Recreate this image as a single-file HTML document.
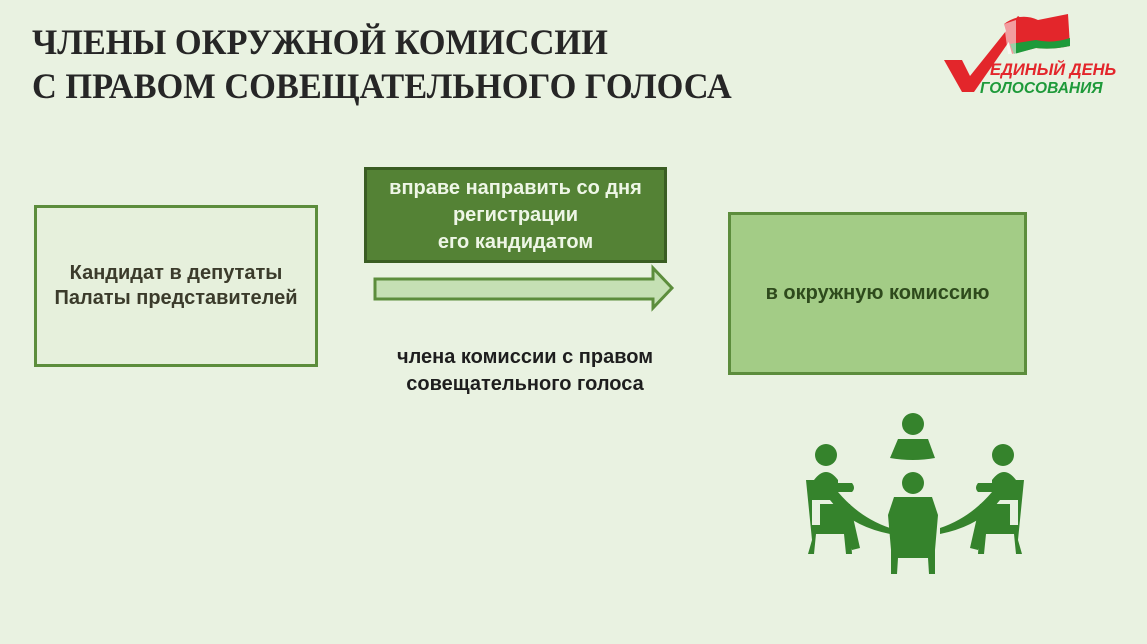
<!DOCTYPE html>
<html><head><meta charset="utf-8"><style>
body{margin:0;width:1147px;height:644px;background:#e9f2e1;position:relative;overflow:hidden;font-family:"Liberation Sans","DejaVu Sans",sans-serif}
.t{position:absolute;left:32px;top:20px;font-family:"Liberation Serif",serif;font-weight:bold;font-size:36px;line-height:44px;color:#262626;transform:scaleX(0.955);transform-origin:0 0;white-space:nowrap}
.b{position:absolute;box-sizing:border-box;display:flex;align-items:center;justify-content:center;text-align:center;font-weight:bold}
</style></head><body>
<div class="t">ЧЛЕНЫ ОКРУЖНОЙ КОМИССИИ<br>С ПРАВОМ СОВЕЩАТЕЛЬНОГО ГОЛОСА</div>
<svg style="position:absolute;left:940px;top:8px" width="195" height="92" viewBox="0 0 195 92">
<path d="M4 52 L22 52 L30 68 L78 8 L84 12 L34 84 L22 84 Z" fill="#e3262b"/>
<path d="M64 16 Q80 4 98 12 L128 6 L130 38 Q112 42 96 40 L72 46 Z" fill="#e3262b"/>
<path d="M70 36 L96 32 Q112 36 130 30 L130 38 Q112 42 96 40 L74 46 Z" fill="#1e9a3a"/>
<path d="M64 16 L76 12 L76 46 L68 46 Z" fill="#fff" opacity=".55"/>
<text x="50" y="67" font-family="Liberation Sans,sans-serif" font-weight="bold" font-style="italic" font-size="16.5" fill="#e3262b">ЕДИНЫЙ ДЕНЬ</text>
<text x="40" y="85" font-family="Liberation Sans,sans-serif" font-weight="bold" font-style="italic" font-size="15.5" fill="#1e9a3a">ГОЛОСОВАНИЯ</text>
</svg>
<div class="b" style="left:34px;top:205px;width:284px;height:162px;background:#e6f0dc;border:3px solid #5c8d3c;color:#3b3b2b;font-size:20px;line-height:25px">Кандидат в депутаты<br>Палаты представителей</div>
<div class="b" style="left:364px;top:167px;width:303px;height:96px;background:#548235;border:3px solid #3a5d23;color:#eef6e6;font-size:20px;line-height:27px">вправе направить со дня<br>регистрации<br>его кандидатом</div>
<svg style="position:absolute;left:370px;top:264px" width="310" height="52"><path d="M5 15 L283 15 L283 4 L302 24 L283 44 L283 35 L5 35 Z" fill="#c5e0b4" stroke="#5c8d3c" stroke-width="3"/></svg>
<div class="b" style="left:360px;top:344px;width:330px;height:54px;color:#1e1e1e;font-size:20px;line-height:27px">члена комиссии с правом<br>совещательного голоса</div>
<div class="b" style="left:728px;top:212px;width:299px;height:163px;background:#a3cc86;border:3px solid #5c8d3c;color:#2e4a1c;font-size:20px">в окружную комиссию</div>
<svg style="position:absolute;left:790px;top:400px" width="250" height="180" viewBox="0 0 250 180" fill="#35832c">
<circle cx="123" cy="24" r="11"/><path d="M108 39 L138 39 L145 58 Q123 62 100 58 Z"/>
<circle cx="36" cy="55" r="11"/><path d="M24 80 Q36 64 48 80 L48 83 L62 83 Q66 88 62 92 L48 92 Q70 118 100 128 L100 134 Q60 126 40 100 L22 100 L22 80 Z"/>
<path d="M16 80 L22 80 L22 125 L60 125 L62 154 L56 154 L54 134 L26 134 L24 154 L18 154 L22 140 Z"/><path d="M30 104 L60 104 L70 148 L62 150 L56 130 L30 130 Z"/>
<circle cx="213" cy="55" r="11"/><path d="M226 80 Q214 64 202 80 L202 83 L188 83 Q184 88 188 92 L202 92 Q180 118 150 128 L150 134 Q190 126 210 100 L228 100 L228 80 Z"/>
<path d="M234 80 L228 80 L228 125 L190 125 L188 154 L194 154 L196 134 L224 134 L226 154 L232 154 L228 140 Z"/><path d="M220 104 L190 104 L180 148 L188 150 L194 130 L220 130 Z"/>
<circle cx="123" cy="83" r="11"/><path d="M104 97 L142 97 L148 115 L145 150 L145 174 L139 174 L138 158 L108 158 L107 174 L101 174 L101 150 L98 115 Z"/>
</svg>
</body></html>
